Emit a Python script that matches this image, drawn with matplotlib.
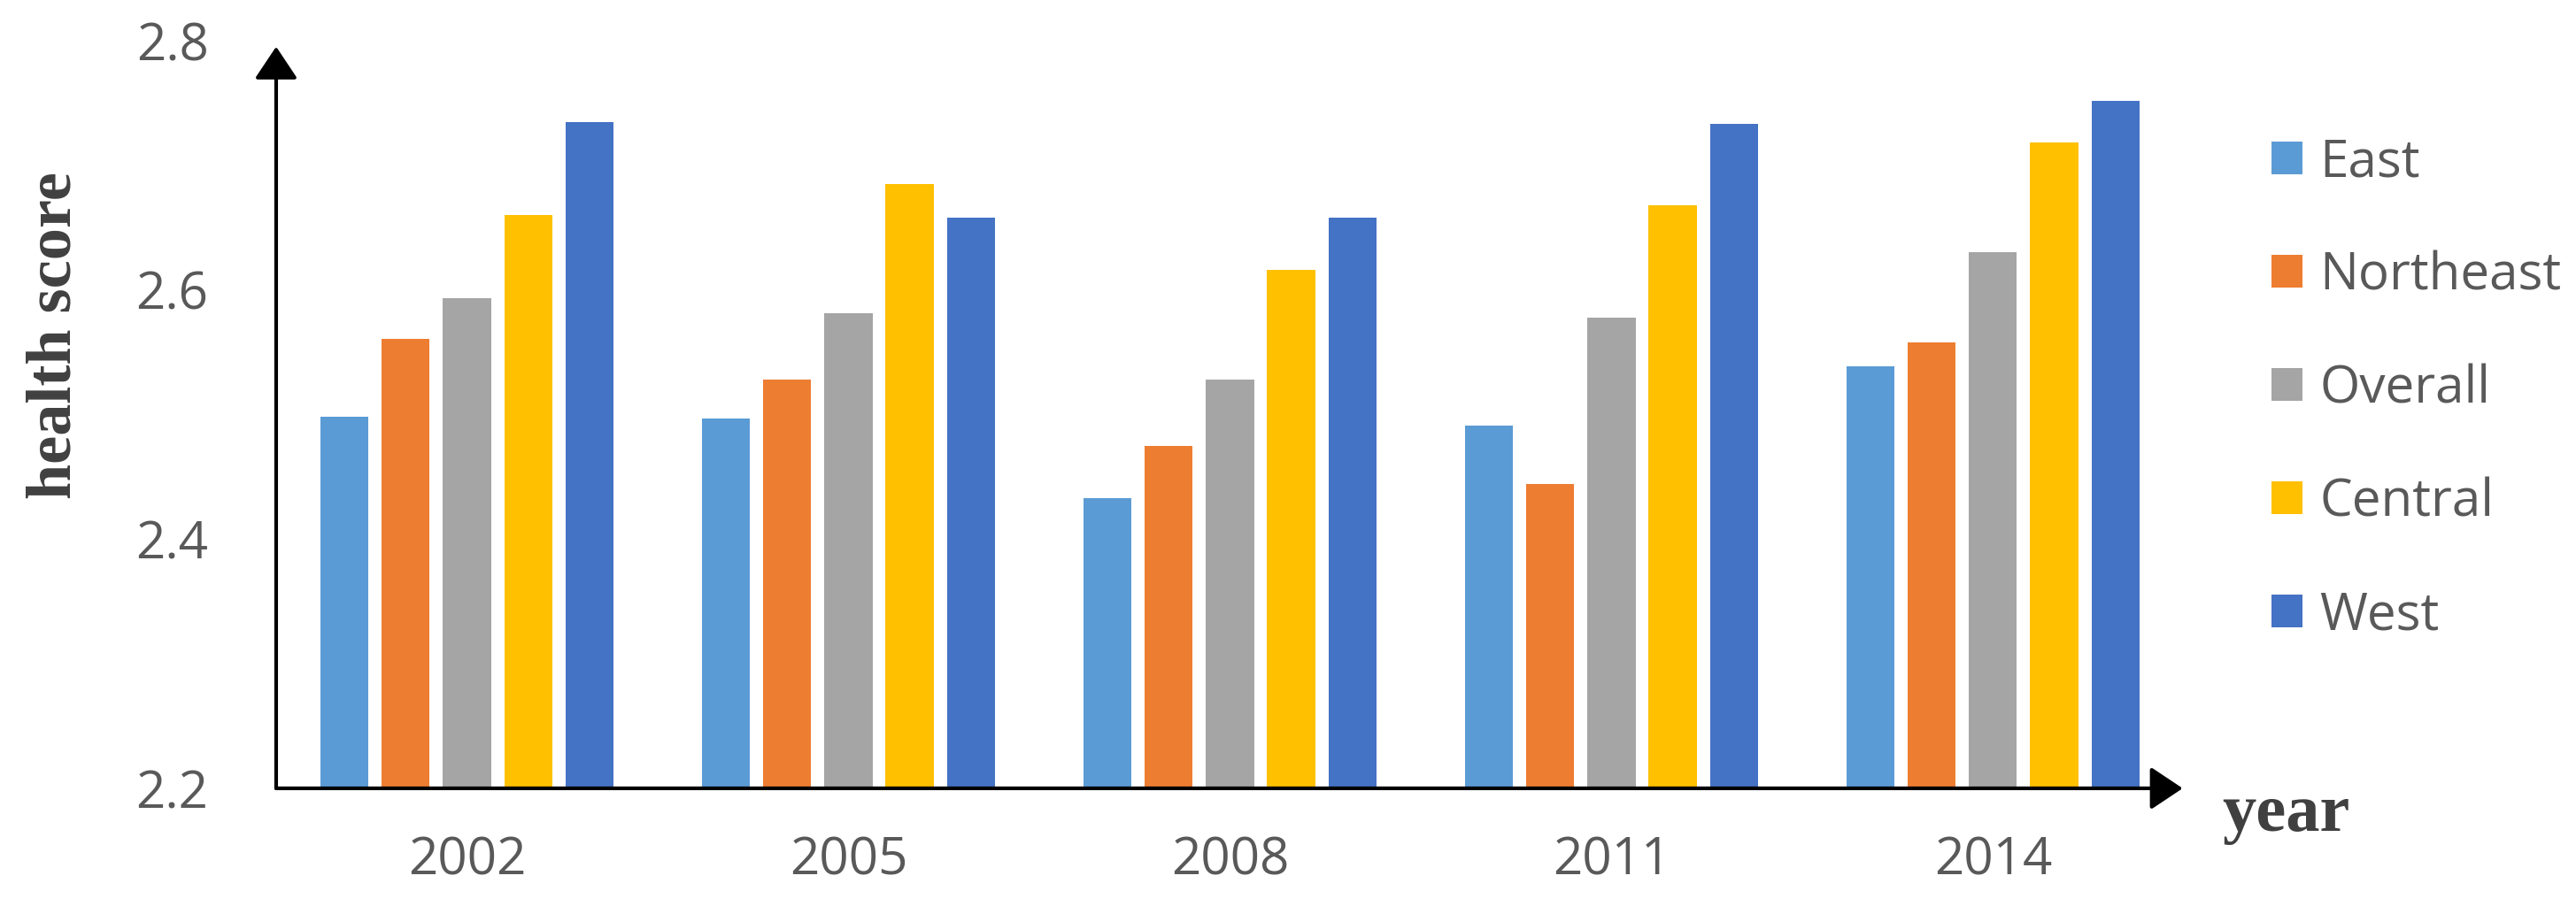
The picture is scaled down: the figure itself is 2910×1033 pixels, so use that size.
## import libraries

import numpy as np
import matplotlib
matplotlib.use("Agg")
import matplotlib.pyplot as plt
from matplotlib.patches import Patch

## data

years = ["2002", "2005", "2008", "2011", "2014"]
regions = ["East", "Northeast", "Overall", "Central", "West"]

east = [2.498, 2.497, 2.433, 2.491, 2.539]
northeast = [2.561, 2.528, 2.475, 2.444, 2.558]
overall = [2.593, 2.581, 2.528, 2.578, 2.630]
central = [2.660, 2.685, 2.616, 2.668, 2.718]
west = [2.735, 2.658, 2.658, 2.733, 2.752]

colors = ["#5B9BD5", "#ED7D31", "#A5A5A5", "#FFC000", "#4472C4"]
y_ticks = [2.2, 2.4, 2.6, 2.8]

## build figure

plt.rcParams["font.family"] = ["Open Sans", "DejaVu Sans"]
text_gray = "#595959"

fig = plt.figure(figsize=(29.10, 10.33), dpi=100)
ax = fig.add_axes([0.1072, 0.1375, 0.7405, 0.818])

x = np.arange(len(years))
pitch = 0.1606
width = 0.126
series = [east, northeast, overall, central, west]

for i, (name, vals) in enumerate(zip(regions, series)):
    offs = (i - 2) * pitch
    ax.bar(x + offs, np.array(vals) - 2.2, bottom=2.2, width=width,
           color=colors[i], label=name, zorder=2)

ax.set_xlim(-0.5, len(years) - 0.5)
ax.set_ylim(2.2, 2.8)
ax.set_xticks(x)
ax.set_xticklabels(years)
ax.set_yticks(y_ticks)
ax.set_yticklabels(["%.1f" % t for t in y_ticks])
ax.tick_params(axis="y", length=0, pad=55, labelsize=42, labelcolor=text_gray)
ax.tick_params(axis="x", length=0, pad=38, labelsize=42, labelcolor=text_gray)

for s in ax.spines.values():
    s.set_visible(False)

# axis lines with arrow heads
arrow = dict(arrowstyle="-|>,head_length=0.45,head_width=0.3", lw=3,
             color="black", mutation_scale=50, shrinkA=0, shrinkB=0)
ax.annotate("", xy=(0, 0.992), xytext=(0, 0), xycoords="axes fraction",
            arrowprops=arrow, annotation_clip=False, zorder=3)
ax.annotate("", xy=(0.9995, 0), xytext=(0, 0), xycoords="axes fraction",
            arrowprops=arrow, annotation_clip=False, zorder=3)

# axis titles
fig.text(62 / 2910, 1 - 379 / 1033, "health score", rotation=90,
         ha="center", va="center", fontsize=52, fontweight="bold",
         family="Liberation Serif", color="#404040")
fig.text(2510 / 2910, 1 - 939 / 1033, "year", ha="left", va="baseline",
         fontsize=55, fontweight="bold", family="Liberation Serif",
         color="#404040")

handles = [Patch(facecolor=c, label=r) for c, r in zip(colors, regions)]
fig.legend(handles=handles, loc="upper left",
           bbox_to_anchor=(2566 / 2910, 1 - 155 / 1033),
           frameon=False, fontsize=42, labelcolor=text_gray,
           handlelength=0.6, handleheight=0.6, handletextpad=0.33,
           labelspacing=1.19, borderaxespad=0, borderpad=0)

plt.savefig("out.png", dpi=100)
